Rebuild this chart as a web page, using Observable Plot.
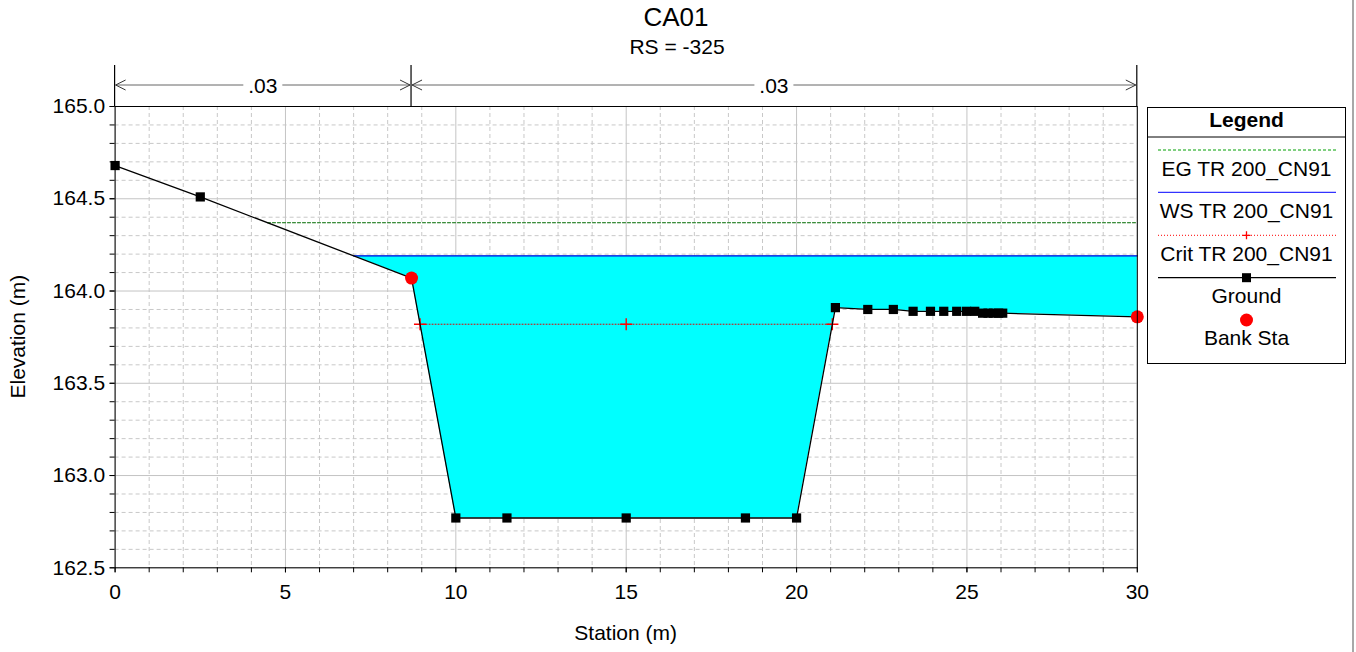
<!DOCTYPE html>
<html><head><meta charset="utf-8">
<script src="https://cdn.jsdelivr.net/npm/d3@7"></script>
<script src="https://cdn.jsdelivr.net/npm/@observablehq/plot@0.6"></script>
<style>body{margin:0;background:#fff;} svg{display:block}</style>
</head><body><div id="chart"></div>
<script>
// ---- data ----
const title = "CA01";
const subtitle = "RS = -325";
const xLabel = "Station (m)";
const yLabel = "Elevation (m)";
const groundStation = [0, 2.5, 8.7, 10, 11.5, 15, 18.5, 20, 21.14, 22.09, 22.84, 23.42, 23.93, 24.32, 24.7, 24.99, 25.23, 25.46, 25.62, 25.78, 25.93, 26.05, 30];
const groundElev = [164.68, 164.51, 164.07, 162.77, 162.77, 162.77, 162.77, 162.77, 163.91, 163.90, 163.90, 163.89, 163.89, 163.89, 163.89, 163.89, 163.89, 163.88, 163.88, 163.88, 163.88, 163.88, 163.86];
const bankStation = [8.7, 30];
const bankElev = [164.07, 163.86];
const wsElev = 164.19;
const egElev = 164.37;
const critElev = 163.82;
const nBreaks = [0, 8.7, 30];
const nValues = [".03", ".03"];
const xTicks = [0, 5, 10, 15, 20, 25, 30];
const yTicks = [162.5, 163.0, 163.5, 164.0, 164.5, 165.0];
const legendItems = ["EG TR 200_CN91", "WS TR 200_CN91", "Crit TR 200_CN91", "Ground", "Bank Sta"];

// ---- helpers ----
const ground = groundStation.map((x, i) => ({x, y: groundElev[i]}));
const banks = bankStation.map((x, i) => ({x, y: bankElev[i]}));
function crossings(level) {
  const out = [];
  for (let i = 0; i < ground.length - 1; i++) {
    const a = ground[i], b = ground[i + 1];
    if ((a.y - level) * (b.y - level) < 0) {
      out.push(a.x + (level - a.y) / (b.y - a.y) * (b.x - a.x));
    }
  }
  return out;
}
const xMax = groundStation[groundStation.length - 1];
const wsStart = crossings(wsElev)[0];
const egStart = crossings(egElev)[0];
const critX = crossings(critElev);
const critPts = [critX[0], (critX[0] + critX[1]) / 2, critX[1]].map(x => ({x, y: critElev}));
const water = [{x: wsStart, g: wsElev}, ...ground.filter(d => d.x > wsStart).map(d => ({x: d.x, g: d.y}))];

const W = 1356, H = 652;
const mL = 114.6, mR = 219.2, mT = 106, mB = 84.7;
const minorX = d3.range(0, 31, 1);
const minorY = d3.range(0, 26).map(i => +(162.5 + i * 0.1).toFixed(2));
const font = "'Liberation Sans', Arial, sans-serif";

const plot = Plot.plot({
  width: W, height: H,
  marginLeft: mL, marginRight: mR, marginTop: mT, marginBottom: mB,
  x: {domain: [0, 30]},
  y: {domain: [162.5, 165]},
  style: {fontFamily: font, fontSize: "21px", color: "black", background: "white", overflow: "visible"},
  marks: [
    Plot.ruleX(minorX.filter(v => v % 5 !== 0), {stroke: "#c8c8c8", strokeDasharray: "4,3", strokeOpacity: 1}),
    Plot.ruleY(minorY.filter(v => Math.abs(v * 2 - Math.round(v * 2)) > 1e-6), {stroke: "#c8c8c8", strokeDasharray: "4,3", strokeOpacity: 1}),
    Plot.ruleX(xTicks, {stroke: "#c4c4c4", strokeOpacity: 1}),
    Plot.ruleY(yTicks, {stroke: "#c4c4c4", strokeOpacity: 1}),
    Plot.areaY(water, {x: "x", y1: "g", y2: () => wsElev, fill: "#00ffff", fillOpacity: 1}),
    Plot.lineY([{x: egStart, y: egElev}, {x: xMax, y: egElev}], {x: "x", y: "y", stroke: "#006a00", strokeWidth: 1, strokeDasharray: "3,2"}),
    Plot.lineY([{x: wsStart, y: wsElev}, {x: xMax, y: wsElev}], {x: "x", y: "y", stroke: "#0000e0", strokeWidth: 1.3}),
    Plot.lineY([critPts[0], critPts[2]], {x: "x", y: "y", stroke: "#e00000", strokeWidth: 1, strokeDasharray: "1,2"}),
    Plot.dot(critPts, {x: "x", y: "y", symbol: "plus", stroke: "#ff0000", r: 4, strokeWidth: 1.4}),
    Plot.line(ground, {x: "x", y: "y", stroke: "black", strokeWidth: 1.3}),
    Plot.dot(ground, {x: "x", y: "y", symbol: "square", fill: "black", r: 5.2}),
    Plot.dot(banks, {x: "x", y: "y", fill: "#ff0000", r: 6.5}),
    Plot.axisX(minorX, {tickSize: 5, tickFormat: () => "", label: null, stroke: "black"}),
    Plot.axisX(xTicks, {tickSize: 5, tickPadding: 11, label: null, fontSize: 21, stroke: "black"}),
    Plot.axisY(minorY, {tickSize: 5, tickFormat: () => "", label: null, stroke: "black"}),
    Plot.axisY(yTicks, {tickSize: 5, tickPadding: 5, label: null, fontSize: 21, tickFormat: d3.format(".1f"), stroke: "black"}),
    Plot.frame({stroke: "black", strokeWidth: 1})
  ]
});
document.getElementById("chart").appendChild(plot);

// ---- overlays ----
const svg = d3.select(plot);
const xs = plot.scale("x"), ys = plot.scale("y");
const g = svg.append("g").attr("font-family", font).attr("fill", "black");

g.append("text").attr("x", 676).attr("y", 26).attr("text-anchor", "middle").attr("font-size", 26).text(title);
g.append("text").attr("x", 677).attr("y", 54).attr("text-anchor", "middle").attr("font-size", 21).text(subtitle);
g.append("text").attr("x", (xs.apply(0) + xs.apply(30)) / 2).attr("y", 640).attr("text-anchor", "middle").attr("font-size", 21).text(xLabel);
g.append("text").attr("transform", `translate(25,${(ys.apply(162.5) + ys.apply(165)) / 2}) rotate(-90)`).attr("text-anchor", "middle").attr("font-size", 21).text(yLabel);

// Manning's n annotation
const topY = 65, arrowY = 85, frameTop = ys.apply(165);
nBreaks.forEach(b => {
  g.append("line").attr("x1", xs.apply(b)).attr("x2", xs.apply(b)).attr("y1", topY).attr("y2", frameTop).attr("stroke", "black").attr("stroke-width", 1.2);
});
nValues.forEach((v, i) => {
  const x0 = xs.apply(nBreaks[i]), x1 = xs.apply(nBreaks[i + 1]);
  const mid = (x0 + x1) / 2;
  const half = 19.5;
  g.append("line").attr("x1", x0 + 1).attr("x2", mid - half).attr("y1", arrowY).attr("y2", arrowY).attr("stroke", "#666");
  g.append("line").attr("x1", mid + half).attr("x2", x1 - 1).attr("y1", arrowY).attr("y2", arrowY).attr("stroke", "#666");
  g.append("path").attr("d", `M${x0 + 11},${arrowY - 5} L${x0 + 1},${arrowY} L${x0 + 11},${arrowY + 5}`).attr("fill", "none").attr("stroke", "#333");
  g.append("path").attr("d", `M${x1 - 11},${arrowY - 5} L${x1 - 1},${arrowY} L${x1 - 11},${arrowY + 5}`).attr("fill", "none").attr("stroke", "#333");
  g.append("text").attr("x", mid).attr("y", arrowY + 7.5).attr("text-anchor", "middle").attr("font-size", 21).text(v);
});

// Legend
const lg = svg.append("g").attr("font-family", font);
const lx = 1147.5, lw = 198, ly = 107.5, lh = 256;
const lcx = lx + lw / 2;
lg.append("rect").attr("x", lx).attr("y", ly).attr("width", lw).attr("height", lh).attr("fill", "white").attr("stroke", "black");
lg.append("line").attr("x1", lx).attr("x2", lx + lw).attr("y1", 137).attr("y2", 137).attr("stroke", "black");
lg.append("text").attr("x", lcx).attr("y", 127).attr("text-anchor", "middle").attr("font-size", 21).attr("font-weight", "bold").text("Legend");
const sx0 = 1158, sx1 = 1336;
const symY = [150, 192.3, 235.3, 277.7, 320];
const txtY = [176, 218.3, 261, 303.3, 345];
lg.append("line").attr("x1", sx0).attr("x2", sx1).attr("y1", symY[0]).attr("y2", symY[0]).attr("stroke", "#00a000").attr("stroke-dasharray", "3,2");
lg.append("line").attr("x1", sx0).attr("x2", sx1).attr("y1", symY[1]).attr("y2", symY[1]).attr("stroke", "#0000ff");
lg.append("line").attr("x1", sx0).attr("x2", sx1).attr("y1", symY[2]).attr("y2", symY[2]).attr("stroke", "#ff0000").attr("stroke-dasharray", "1,2");
lg.append("path").attr("d", `M${lcx - 4},${symY[2]} h8 M${lcx},${symY[2] - 4} v8`).attr("stroke", "#ff0000").attr("stroke-width", 1.3);
lg.append("line").attr("x1", sx0).attr("x2", sx1).attr("y1", symY[3]).attr("y2", symY[3]).attr("stroke", "black").attr("stroke-width", 1.3);
lg.append("rect").attr("x", lcx - 4.5).attr("y", symY[3] - 4.5).attr("width", 9).attr("height", 9).attr("fill", "black");
lg.append("circle").attr("cx", lcx).attr("cy", symY[4]).attr("r", 6.5).attr("fill", "#ff0000");
legendItems.forEach((t, i) => {
  lg.append("text").attr("x", lcx).attr("y", txtY[i]).attr("text-anchor", "middle").attr("font-size", 21).text(t);
});
// window edge
svg.append("rect").attr("x", 1352).attr("y", 0).attr("width", 2).attr("height", H).attr("fill", "#a8a8a8");
</script>
</body></html>
